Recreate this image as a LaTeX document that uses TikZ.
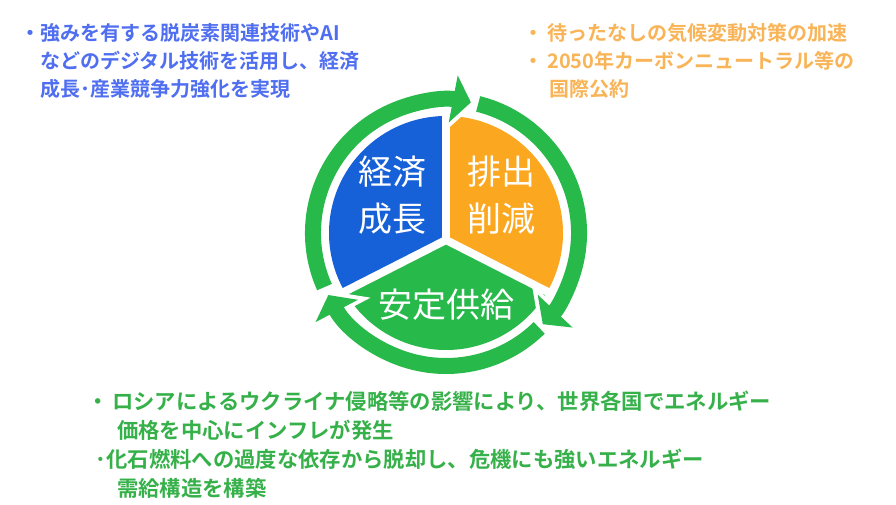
\documentclass[tikz,border=0pt]{standalone}
\usepackage{fontspec}
\setmainfont{Noto Sans CJK JP}[BoldFont={* Bold}]
\usepackage{xcolor}
\usetikzlibrary{arrows.meta}

\definecolor{ecoblue}{HTML}{1660D8}
\definecolor{cutorange}{HTML}{FBA820}
\definecolor{supgreen}{HTML}{28B94B}
\definecolor{bluetext}{HTML}{4F6EF0}
\definecolor{orangetext}{HTML}{F8B457}
\definecolor{greentext}{HTML}{36B14A}

\tikzset{
  sectortext/.style={text=white, align=center, inner sep=0pt, font=\fontsize{25.5pt}{35.25pt}\selectfont},
  notetext/.style={anchor=west, align=left, inner sep=0pt, font=\fontsize{15pt}{21pt}\selectfont\bfseries},
  ringhalo/.style={draw=white, line width=18pt, shorten >=-3.8pt, -{Triangle[width=53pt,length=20.3pt]}},
  ringarrow/.style={draw=supgreen, line width=12pt, -{Triangle[width=35.25pt,length=13.5pt]}}
}

\begin{document}
\begin{tikzpicture}[x=0.75pt,y=0.75pt]
    \fill [white] (0,0) rectangle (896,504);          % background
    \coordinate (C) at (446,271);                      % centre of the circle
    \coordinate (J) at (446,264);                      % meeting point of the sectors
    \fill [ecoblue] (J) -- ([shift={(90:117)}]C) arc[start angle=90, end angle=210, radius=117] -- cycle;   % growth
    \fill [cutorange] (J) -- ([shift={(90:117)}]C) arc[start angle=90, end angle=-30, radius=117] -- cycle; % emissions
    \fill [supgreen] (J) -- ([shift={(210:117)}]C) arc[start angle=210, end angle=330, radius=117] -- cycle; % supply
    \foreach \a in {90,210,330}
        \draw [white, line width=6pt] (J) -- ([shift={(\a:119)}]C);   % white dividers
    \node [sectortext] (growth) at (392,308.5) {経済\\成長};
    \node [sectortext] (cut) at (501,308.5) {排出\\削減};
    \node [sectortext] (supply) at (446,199) {安定供給};
    % the ring of arrows
    \foreach \s/\e in {204/79.2, 76/-43.3, -45.5/-152.2}
        \draw [ringhalo] ([shift={(\s:133)}]C) arc[start angle=\s, end angle=\e, radius=133];
    \foreach \s/\e in {204/79.2, 76/-43.3, -45.5/-152.2}
        \draw [ringarrow] ([shift={(\s:133)}]C) arc[start angle=\s, end angle=\e, radius=133];
    % notes
    \node [notetext, text=bluetext] (growthnote) at (20,443) {・強みを有する脱炭素関連技術やAI\\\hspace*{15pt}などのデジタル技術を活用し、経済\\\hspace*{15pt}成長･産業競争力強化を実現};
    \node [notetext, text=orangetext] (cutnote) at (523,443) {・\hspace*{3pt}待ったなしの気候変動対策の加速\\・\hspace*{3pt}2050年カーボンニュートラル等の\\\hspace*{20pt}国際公約};
    \node [notetext, text=greentext, font=\fontsize{16pt}{21.75pt}\selectfont\bfseries] (supplynote) at (87.5,59) {・\hspace*{2.25pt}ロシアによるウクライナ侵略等の影響により、世界各国でエネルギー\\\hspace*{22pt}価格を中心にインフレが発生\\\hspace*{6pt}･化石燃料への過度な依存から脱却し、危機にも強いエネルギー\\\hspace*{22pt}需給構造を構築};
\end{tikzpicture}
\end{document}
